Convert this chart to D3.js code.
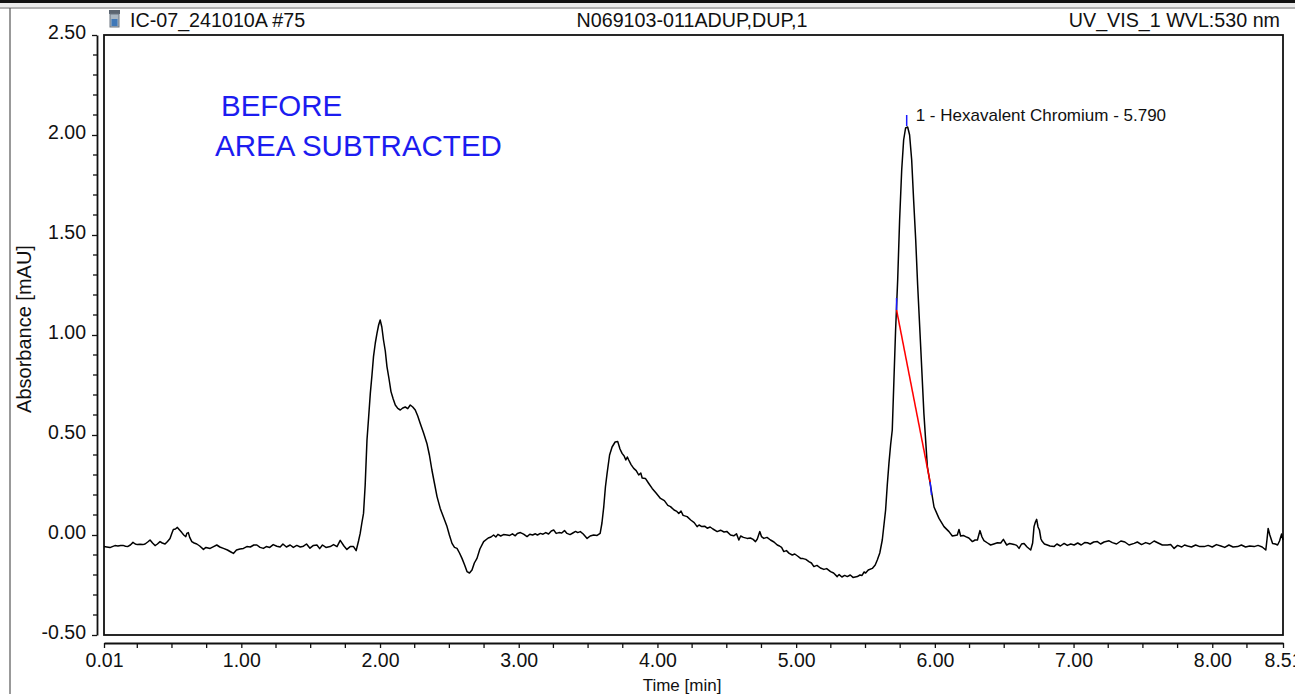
<!DOCTYPE html>
<html>
<head>
<meta charset="utf-8">
<script src="https://cdn.jsdelivr.net/npm/d3@7"></script>
<style>
  html, body { margin: 0; padding: 0; background: #fff; overflow: hidden; }
  svg { display: block; font-family: "Liberation Sans", Arial, sans-serif; }
</style>
</head>
<body>
<svg id="chart" width="1295" height="694"></svg>
<script>
// ---- chromatogram header ----
const injectionName = "IC-07_241010A #75";
const sampleName = "N069103-011ADUP,DUP,1";
const channelName = "UV_VIS_1 WVL:530 nm";
const noteLines = ["BEFORE", "AREA SUBTRACTED"];

// ---- axis ticks ----
const xMajorTicks = [0.01, 1, 2, 3, 4, 5, 6, 7, 8, 8.51];
const xMinorTicks = [0.25, 0.5, 0.75, 1.25, 1.5, 1.75, 2.25, 2.5, 2.75, 3.25, 3.5, 3.75,
                     4.25, 4.5, 4.75, 5.25, 5.5, 5.75, 6.25, 6.5, 6.75, 7.25, 7.5, 7.75, 8.25];
const yMajorTicks = [-0.5, 0, 0.5, 1, 1.5, 2, 2.5];
const yMinorTicks = [-0.4, -0.3, -0.2, -0.1, 0.1, 0.2, 0.3, 0.4, 0.6, 0.7, 0.8, 0.9,
                     1.1, 1.2, 1.3, 1.4, 1.6, 1.7, 1.8, 1.9, 2.1, 2.2, 2.3, 2.4];

// ---- integrated peak ----
const peakLabel = "1 - Hexavalent Chromium - 5.790";
const peakApex = [5.797, 2.045];
const peakBaseline = [[5.724, 1.125], [5.966, 0.265]];

// ---- detector trace: [time (min), absorbance (mAU)] ----
const trace = [
  [0.01,-0.058],[0.03,-0.060],[0.053,-0.063],[0.07,-0.058],[0.089,-0.053],[0.11,-0.055],[0.13,-0.052],
  [0.147,-0.052],[0.165,-0.056],[0.183,-0.057],[0.20,-0.050],[0.219,-0.037],[0.235,-0.045],[0.25,-0.048],
  [0.27,-0.046],[0.29,-0.048],[0.306,-0.045],[0.325,-0.035],[0.342,-0.025],[0.36,-0.040],[0.378,-0.053],
  [0.395,-0.045],[0.414,-0.033],[0.43,-0.040],[0.45,-0.045],[0.468,-0.032],[0.486,-0.017],[0.50,0.010],
  [0.510,0.028],[0.525,0.030],[0.539,0.038],[0.555,0.025],[0.571,0.012],[0.585,0.000],[0.60,-0.008],
  [0.607,0.008],[0.618,0.012],[0.628,-0.012],[0.643,-0.033],[0.66,-0.040],[0.679,-0.045],[0.70,-0.055],
  [0.727,-0.072],[0.745,-0.062],[0.775,-0.067],[0.80,-0.058],[0.823,-0.050],[0.845,-0.060],[0.871,-0.067],
  [0.90,-0.075],[0.925,-0.085],[0.943,-0.092],[0.965,-0.075],[0.99,-0.070],[1.015,-0.067],[1.04,-0.058],
  [1.065,-0.060],[1.09,-0.050],[1.112,-0.050],[1.135,-0.062],[1.159,-0.067],[1.18,-0.058],[1.205,-0.062],
  [1.23,-0.048],[1.256,-0.056],[1.28,-0.060],[1.30,-0.045],[1.325,-0.060],[1.352,-0.050],[1.375,-0.062],
  [1.40,-0.052],[1.425,-0.060],[1.448,-0.056],[1.47,-0.045],[1.495,-0.066],[1.52,-0.052],[1.545,-0.050],
  [1.565,-0.068],[1.585,-0.050],[1.61,-0.062],[1.641,-0.058],[1.665,-0.048],[1.69,-0.058],[1.713,-0.027],
  [1.74,-0.055],[1.761,-0.072],[1.785,-0.058],[1.809,-0.058],[1.828,-0.078],[1.845,-0.030],[1.857,0.008],
  [1.869,0.06],[1.881,0.108],[1.893,0.25],[1.906,0.475],[1.918,0.59],[1.930,0.708],[1.942,0.80],
  [1.953,0.892],[1.966,0.96],[1.978,1.008],[1.990,1.05],[2.001,1.075],[2.013,1.04],[2.025,0.975],
  [2.038,0.92],[2.050,0.842],[2.065,0.78],[2.079,0.717],[2.095,0.68],[2.110,0.65],[2.128,0.633],
  [2.146,0.625],[2.164,0.635],[2.182,0.64],[2.20,0.632],[2.218,0.65],[2.236,0.64],[2.254,0.625],
  [2.272,0.595],[2.290,0.558],[2.314,0.51],[2.338,0.458],[2.356,0.40],[2.374,0.325],[2.392,0.26],
  [2.411,0.192],[2.434,0.133],[2.46,0.085],[2.483,0.042],[2.50,0.0],[2.519,-0.042],[2.537,-0.062],
  [2.555,-0.067],[2.573,-0.09],[2.591,-0.117],[2.61,-0.15],[2.627,-0.183],[2.645,-0.19],[2.663,-0.175],
  [2.68,-0.14],[2.699,-0.117],[2.72,-0.07],[2.747,-0.033],[2.78,-0.015],[2.80,-0.01],[2.819,0.0],
  [2.835,-0.01],[2.85,0.003],[2.87,-0.005],[2.89,0.002],[2.916,0.0],[2.935,-0.002],[2.955,0.006],
  [2.975,-0.004],[2.99,0.008],[3.012,0.012],[3.035,0.004],[3.06,-0.008],[3.08,0.004],[3.10,0.0],
  [3.12,0.006],[3.135,0.0],[3.156,0.008],[3.175,0.004],[3.195,0.012],[3.215,0.005],[3.235,0.02],
  [3.252,0.025],[3.27,0.008],[3.29,0.012],[3.31,0.01],[3.33,0.022],[3.348,0.008],[3.37,0.002],
  [3.39,0.01],[3.41,0.018],[3.425,0.012],[3.444,0.017],[3.465,0.005],[3.493,-0.017],[3.515,-0.005],
  [3.540,0.0],[3.565,-0.002],[3.587,0.008],[3.600,0.06],[3.613,0.141],[3.625,0.24],[3.637,0.308],
  [3.655,0.40],[3.673,0.44],[3.695,0.465],[3.714,0.467],[3.730,0.43],[3.745,0.408],[3.76,0.395],
  [3.772,0.375],[3.783,0.39],[3.793,0.375],[3.81,0.352],[3.829,0.333],[3.847,0.322],[3.865,0.30],
  [3.88,0.31],[3.89,0.285],[3.913,0.283],[3.935,0.26],[3.962,0.233],[3.99,0.21],[4.022,0.183],
  [4.05,0.172],[4.075,0.148],[4.094,0.142],[4.12,0.125],[4.14,0.118],[4.154,0.108],[4.17,0.12],
  [4.185,0.098],[4.214,0.092],[4.24,0.075],[4.265,0.062],[4.286,0.042],[4.30,0.05],[4.32,0.042],
  [4.34,0.044],[4.359,0.034],[4.38,0.04],[4.40,0.03],[4.431,0.017],[4.455,0.024],[4.48,0.015],
  [4.50,0.018],[4.527,0.0],[4.55,-0.004],[4.57,0.006],[4.587,-0.025],[4.60,-0.005],[4.62,-0.012],
  [4.647,-0.017],[4.67,-0.015],[4.69,-0.022],[4.707,-0.033],[4.72,-0.02],[4.738,0.017],[4.75,-0.008],
  [4.767,-0.017],[4.79,-0.012],[4.815,-0.025],[4.84,-0.035],[4.864,-0.05],[4.88,-0.055],[4.895,-0.062],
  [4.911,-0.083],[4.93,-0.078],[4.95,-0.092],[4.972,-0.1],[4.99,-0.095],[5.01,-0.105],[5.032,-0.117],
  [5.05,-0.118],[5.07,-0.122],[5.092,-0.133],[5.11,-0.14],[5.128,-0.158],[5.15,-0.152],[5.175,-0.165],
  [5.20,-0.172],[5.22,-0.168],[5.248,-0.183],[5.27,-0.19],[5.296,-0.208],[5.31,-0.198],[5.33,-0.21],
  [5.35,-0.202],[5.369,-0.208],[5.39,-0.2],[5.41,-0.212],[5.441,-0.208],[5.46,-0.2],[5.475,-0.202],
  [5.49,-0.185],[5.501,-0.19],[5.52,-0.175],[5.549,-0.167],[5.57,-0.15],[5.585,-0.125],[5.603,-0.09],
  [5.621,-0.025],[5.645,0.125],[5.657,0.25],[5.669,0.358],[5.681,0.45],[5.693,0.525],[5.705,0.775],
  [5.717,1.025],[5.732,1.275],[5.746,1.575],[5.761,1.825],[5.775,1.975],[5.789,2.035],[5.804,2.04],
  [5.818,2.0],[5.833,1.875],[5.847,1.675],[5.862,1.475],[5.876,1.25],[5.898,0.94],[5.921,0.608],
  [5.946,0.342],[5.970,0.242],[5.994,0.14],[6.030,0.083],[6.066,0.042],[6.102,0.017],[6.126,-0.005],
  [6.145,-0.002],[6.162,0.0],[6.174,0.028],[6.186,-0.005],[6.205,-0.002],[6.222,-0.008],[6.245,-0.015],
  [6.271,-0.033],[6.29,-0.025],[6.307,-0.025],[6.325,0.022],[6.34,-0.01],[6.354,-0.028],[6.38,-0.04],
  [6.402,-0.05],[6.425,-0.045],[6.451,-0.039],[6.475,-0.04],[6.494,-0.022],[6.518,-0.05],[6.54,-0.042],
  [6.571,-0.047],[6.59,-0.052],[6.607,-0.067],[6.625,-0.045],[6.643,-0.042],[6.665,-0.06],[6.691,-0.075],
  [6.705,-0.04],[6.715,0.042],[6.725,0.065],[6.734,0.078],[6.744,0.04],[6.754,0.025],[6.765,-0.02],
  [6.775,-0.033],[6.79,-0.045],[6.811,-0.05],[6.83,-0.055],[6.859,-0.058],[6.88,-0.045],[6.905,-0.055],
  [6.932,-0.042],[6.955,-0.052],[6.98,-0.045],[7.004,-0.05],[7.03,-0.04],[7.055,-0.05],[7.08,-0.038],
  [7.100,-0.039],[7.12,-0.045],[7.145,-0.035],[7.172,-0.033],[7.195,-0.045],[7.22,-0.035],[7.256,-0.029],
  [7.28,-0.038],[7.31,-0.045],[7.341,-0.03],[7.37,-0.035],[7.40,-0.05],[7.437,-0.042],[7.46,-0.035],
  [7.49,-0.048],[7.52,-0.038],[7.55,-0.045],[7.581,-0.03],[7.61,-0.04],[7.64,-0.05],[7.677,-0.05],
  [7.70,-0.048],[7.725,-0.067],[7.75,-0.052],[7.78,-0.06],[7.80,-0.05],[7.822,-0.055],[7.85,-0.06],
  [7.88,-0.05],[7.91,-0.058],[7.942,-0.058],[7.97,-0.052],[8.00,-0.06],[8.03,-0.048],[8.062,-0.055],
  [8.09,-0.062],[8.12,-0.05],[8.15,-0.06],[8.183,-0.058],[8.21,-0.05],[8.24,-0.06],[8.27,-0.055],
  [8.302,-0.058],[8.33,-0.052],[8.36,-0.06],[8.386,-0.075],[8.395,-0.02],[8.403,0.033],[8.415,0.0],
  [8.435,-0.042],[8.455,-0.045],[8.471,-0.05],[8.485,-0.03],[8.500,0.005],[8.510,-0.025]
];

// ---- layout ----
const svg = d3.select("#chart");
const plot = { left: 104, right: 1283, top: 35, bottom: 635 };
const yAxisX = 97, xAxisY = 643;

const x = d3.scaleLinear().domain([0.01, 8.51]).range([plot.left, plot.right]);
const y = d3.scaleLinear().domain([-0.5, 2.5]).range([plot.bottom, plot.top]);

// window chrome above the report
svg.append("rect").attr("x", 0).attr("y", 0).attr("width", 1295).attr("height", 3).attr("fill", "#111");
svg.append("rect").attr("x", 0).attr("y", 3).attr("width", 1295).attr("height", 4).attr("fill", "#ececec");
svg.append("line").attr("x1", 0).attr("x2", 1295).attr("y1", 8).attr("y2", 8)
  .attr("stroke", "#666").attr("stroke-width", 1.2);
svg.append("line").attr("x1", 10).attr("x2", 10).attr("y1", 8).attr("y2", 694)
  .attr("stroke", "#555").attr("stroke-width", 1.2);

// sample vial icon
const icon = svg.append("g").attr("transform", "translate(108,10)");
icon.append("rect").attr("x", 1).attr("y", 0).attr("width", 11).attr("height", 4).attr("fill", "#5a6470");
icon.append("rect").attr("x", 2).attr("y", 4).attr("width", 9).attr("height", 13).attr("fill", "#a9b6c2").attr("stroke", "#6b7580").attr("stroke-width", 1);
icon.append("rect").attr("x", 3.5).attr("y", 9).attr("width", 6).attr("height", 7).attr("fill", "#3f78b8");

// header text
const header = svg.append("g").attr("font-size", 19.7).attr("fill", "#111");
header.append("text").attr("x", 130).attr("y", 27).text(injectionName);
header.append("text").attr("x", 692).attr("y", 27).attr("text-anchor", "middle").text(sampleName);
header.append("text").attr("x", 1280).attr("y", 27).attr("text-anchor", "end").text(channelName);

// plot frame
svg.append("rect")
  .attr("x", plot.left).attr("y", plot.top)
  .attr("width", plot.right - plot.left).attr("height", plot.bottom - plot.top)
  .attr("fill", "none").attr("stroke", "#111").attr("stroke-width", 1.8);

// y axis (detached, left of the frame)
const yAxis = svg.append("g").attr("transform", `translate(${yAxisX},0)`)
  .call(d3.axisLeft(y).tickValues(yMajorTicks).tickSize(5).tickSizeOuter(0).tickPadding(6)
    .tickFormat(d => d.toFixed(2)));
yAxis.append("g").selectAll("line").data(yMinorTicks).join("line")
  .attr("x1", -4).attr("x2", 0).attr("y1", d => y(d)).attr("y2", d => y(d))
  .attr("stroke", "#111").attr("stroke-width", 1.3);

// x axis (detached, below the frame)
const xAxis = svg.append("g").attr("transform", `translate(0,${xAxisY})`)
  .call(d3.axisBottom(x).tickValues(xMajorTicks).tickSize(5).tickSizeOuter(0).tickPadding(5)
    .tickFormat(d => d.toFixed(2)));
xAxis.append("g").selectAll("line").data(xMinorTicks).join("line")
  .attr("x1", d => x(d)).attr("x2", d => x(d)).attr("y1", 0).attr("y2", 5)
  .attr("stroke", "#111").attr("stroke-width", 1.3);

[yAxis, xAxis].forEach(g => {
  g.select(".domain").attr("stroke", "#111").attr("stroke-width", 1.8);
  g.selectAll(".tick line").attr("stroke", "#111").attr("stroke-width", 1.3);
  g.selectAll(".tick text").attr("font-size", 19.5).attr("fill", "#111")
    .attr("font-family", "'Liberation Sans', Arial, sans-serif");
});
yAxis.selectAll(".tick text").attr("dy", "0.18em");

// axis titles
svg.append("text").attr("transform", "translate(31,329) rotate(-90)")
  .attr("text-anchor", "middle").attr("font-size", 20).attr("fill", "#111").text("Absorbance [mAU]");
svg.append("text").attr("x", 682).attr("y", 691)
  .attr("text-anchor", "middle").attr("font-size", 17).attr("fill", "#111").text("Time [min]");

// annotation
const note = svg.append("g").attr("font-size", 29.5).attr("fill", "#1c1cf0");
note.append("text").attr("x", 221).attr("y", 116).text(noteLines[0]);
note.append("text").attr("x", 215).attr("y", 156).text(noteLines[1]);

// detector trace
const line = d3.line().x(d => x(d[0])).y(d => y(d[1]));
svg.append("path").datum(trace)
  .attr("d", line).attr("fill", "none")
  .attr("stroke", "#000").attr("stroke-width", 1.5).attr("stroke-linejoin", "round");

// peak integration baseline and delimiters
svg.append("path").datum(peakBaseline)
  .attr("d", line).attr("fill", "none").attr("stroke", "#f00").attr("stroke-width", 1.5);
const blue = "#1a1aff";
svg.append("line")
  .attr("x1", x(peakBaseline[0][0])).attr("x2", x(peakBaseline[0][0]))
  .attr("y1", y(peakBaseline[0][1])).attr("y2", y(peakBaseline[0][1] + 0.06))
  .attr("stroke", blue).attr("stroke-width", 1.5);
svg.append("line")
  .attr("x1", x(peakBaseline[1][0])).attr("x2", x(peakBaseline[1][0] + 0.01))
  .attr("y1", y(peakBaseline[1][1])).attr("y2", y(peakBaseline[1][1] - 0.065))
  .attr("stroke", blue).attr("stroke-width", 1.5);
svg.append("line")
  .attr("x1", x(peakApex[0])).attr("x2", x(peakApex[0]))
  .attr("y1", y(peakApex[1])).attr("y2", y(peakApex[1] + 0.055))
  .attr("stroke", blue).attr("stroke-width", 1.5);
svg.append("text")
  .attr("x", x(peakApex[0]) + 9).attr("y", y(peakApex[1]) - 5)
  .attr("font-size", 17).attr("fill", "#111").text(peakLabel);
</script>
</body>
</html>
